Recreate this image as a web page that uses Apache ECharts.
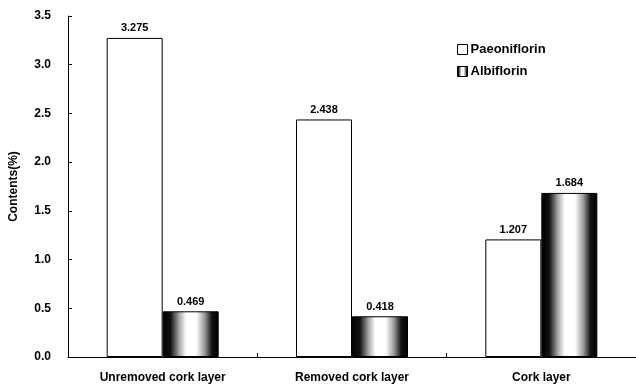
<!DOCTYPE html>
<html><head><meta charset="utf-8">
<script src="https://cdn.jsdelivr.net/npm/echarts@6/dist/echarts.min.js"></script>
<style>html,body{margin:0;padding:0;background:#fff}#c{width:636px;height:387px}</style>
</head><body><div id="c"></div>
<script>
var categories = ['Unremoved cork layer', 'Removed cork layer', 'Cork layer'];
var paeoniflorin = [3.275, 2.438, 1.207];
var albiflorin = [0.469, 0.418, 1.684];
var yTicks = [0, 0.5, 1.0, 1.5, 2.0, 2.5, 3.0, 3.5];

var F = 'Liberation Sans, Arial, sans-serif';
var cyl = new echarts.graphic.LinearGradient(0, 0, 1, 0, [
  {offset: 0, color: '#000'}, {offset: 0.14, color: '#111'},
  {offset: 0.3, color: '#aaa'}, {offset: 0.42, color: '#fff'},
  {offset: 0.6, color: '#fff'}, {offset: 0.75, color: '#999'},
  {offset: 0.88, color: '#111'}, {offset: 1, color: '#000'}
]);
var chart = echarts.init(document.getElementById('c'));
chart.setOption({
  animation: false,
  backgroundColor: '#fff',
  grid: {left: 62, width: 577, top: 16, bottom: 30, containLabel: false},
  legend: {
    orient: 'vertical', left: 452, top: 38, itemWidth: 10, itemHeight: 10, itemGap: 9,
    textStyle: {fontFamily: F, fontWeight: 'bold', fontSize: 13, color: '#000', padding: [0,0,0,-2]},
    data: [
      {name: 'Paeoniflorin', icon: 'rect', itemStyle: {color: '#fff', borderColor: '#000', borderWidth: 1}},
      {name: 'Albiflorin', icon: 'rect', itemStyle: {color: cyl, borderColor: '#000', borderWidth: 1}}
    ]
  },
  xAxis: {
    type: 'category', data: categories,
    axisLine: {lineStyle: {color: '#000', width: 1}},
    axisTick: {show: true, inside: true, length: 4, lineStyle: {color: '#000'}},
    axisLabel: {fontFamily: F, fontWeight: 'bold', fontSize: 12, color: '#000', margin: 15}
  },
  yAxis: {
    type: 'value', min: yTicks[0], max: yTicks[yTicks.length-1], interval: 0.5,
    name: 'Contents(%)', nameLocation: 'middle', nameGap: 48,
    nameTextStyle: {fontFamily: F, fontWeight: 'bold', fontSize: 12, color: '#000'},
    axisLine: {show: true, lineStyle: {color: '#000', width: 1}},
    axisTick: {show: true, inside: true, length: 4, lineStyle: {color: '#000'}},
    splitLine: {show: false},
    axisLabel: {fontFamily: F, fontWeight: 'bold', fontSize: 12, color: '#000', margin: 17,
      formatter: function (v) { return v.toFixed(1); }}
  },
  series: [
    {name: 'Paeoniflorin', type: 'bar', data: paeoniflorin, barWidth: 56, barGap: '0%',
      itemStyle: {color: '#fff', borderColor: '#000', borderWidth: 1},
      label: {show: true, position: 'top', distance: 4, fontFamily: F, fontWeight: 'bold', fontSize: 11, color: '#000',
        formatter: function (p) { return p.value.toFixed(3); }}},
    {name: 'Albiflorin', type: 'bar', data: albiflorin, barWidth: 56, barGap: '0%',
      itemStyle: {color: cyl, borderColor: '#000', borderWidth: 1},
      label: {show: true, position: 'top', distance: 4, fontFamily: F, fontWeight: 'bold', fontSize: 11, color: '#000',
        formatter: function (p) { return p.value.toFixed(3); }}}
  ]
});
</script></body></html>
